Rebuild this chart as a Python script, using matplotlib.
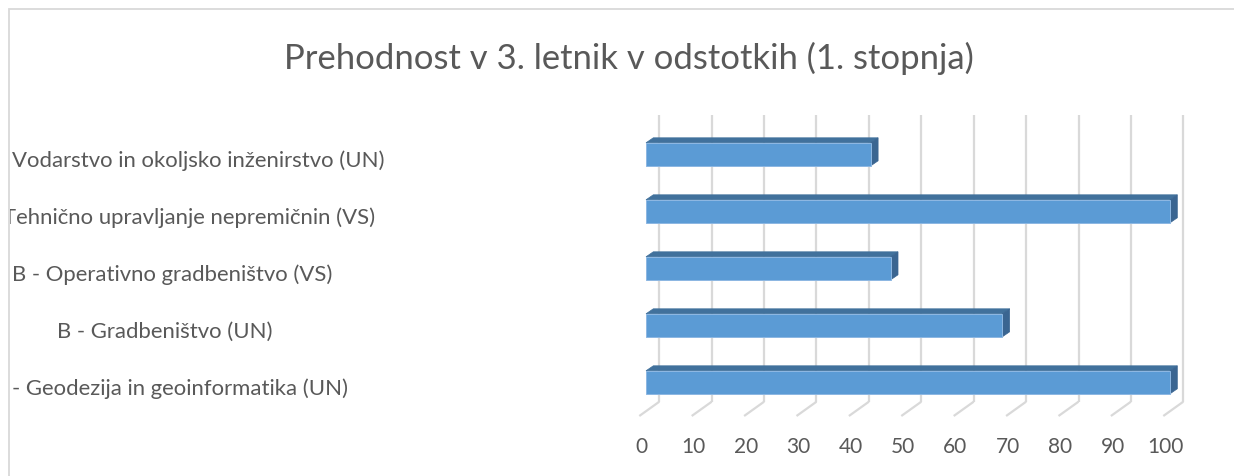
import numpy as np
import matplotlib.pyplot as plt
from matplotlib.patches import Polygon, Rectangle

# data
categories = ['- Geodezija in geoinformatika (UN)',
              'B - Gradbeništvo (UN)',
              'B - Operativno gradbeništvo (VS)',
              'Tehnično upravljanje nepremičnin (VS)',
              'Vodarstvo in okoljsko inženirstvo (UN)']
values = [100, 68, 46.7, 100, 42.9]
ticks = [0, 10, 20, 30, 40, 50, 60, 70, 80, 90, 100]
title = 'Prehodnost v 3. letnik v odstotkih (1. stopnja)'

# layout (pixels)
W, H = 1234, 476
X0, PXU = 646, 5.24        # front face of value 0, px per percent
Y0, PXC = 382.3, 57.0      # centre of first bar, px per category
label_left = [12, 57, 12, 3, 12]

FONT = 'Lato'
TXT = '#595959'
GRID = '#D9D9D9'
FRONT, TOP, SIDE = '#5B9BD5', '#41719C', '#3A6591'


def dx(px):
    return px / PXU


def dy(px):
    return px / PXC


fig = plt.figure(figsize=(W / 100, H / 100), dpi=100)
fig.patch.set_facecolor('white')

ax = fig.add_axes([0, 0, 1, 1])
ax.set_xlim(-X0 / PXU, (W - X0) / PXU)
ax.set_ylim((Y0 - H) / PXC, Y0 / PXC)
ax.axis('off')

# chart border
ax.add_patch(Rectangle((9 / W, -0.1), 1.2, (H - 9) / H + 0.1, transform=ax.transAxes,
                       fill=False, edgecolor=GRID, lw=1.3))

# back wall gridlines and floor lines
g_top, g_bot, g_floor = dy(382.3 - 115), dy(382.3 - 401.7), dy(382.3 - 416)
for t in ticks:
    xb = t + dx(13.3)
    xf = t + dx(-6.7)
    ax.plot([xb, xb], [g_bot, g_top], color=GRID, lw=1.6, solid_capstyle='butt', zorder=1)
    ax.plot([xb, xf], [g_bot, g_floor], color=GRID, lw=1.6, solid_capstyle='butt', zorder=1)
    ax.text(t + dx(-5), dy(382.3 - 447), str(t), ha='center', va='center',
            fontsize=15, color=TXT, family=FONT)

# 3D bars
y = np.arange(len(categories))
bh = dy(23)
ddx, ddy = dx(7.3), dy(5)
ax.barh(y, values, height=bh, color=FRONT, edgecolor='#8DB7E2', lw=0.7, zorder=3)
for yi, v in zip(y, values):
    top = yi + bh / 2
    bot = yi - bh / 2
    ax.add_patch(Polygon([(0, top), (v, top), (v + ddx, top + ddy), (ddx, top + ddy)],
                         closed=True, facecolor=TOP, edgecolor=TOP, lw=0.5, zorder=2))
    ax.add_patch(Polygon([(v, bot), (v, top), (v + ddx, top + ddy), (v + ddx, bot + ddy)],
                         closed=True, facecolor=SIDE, edgecolor=SIDE, lw=0.5, zorder=2))

# category labels, clipped at the chart border
lab = fig.add_axes([10 / W, 0, 630 / W, 1])
lab.set_xlim(10, 640)
lab.set_ylim(ax.get_ylim())
lab.axis('off')
lab.patch.set_facecolor('none')
for yi, name, lx in zip(y, categories, label_left):
    lab.text(lx, yi - dy(6.5), name, ha='left', va='center', fontsize=15.9,
             color=TXT, family=FONT, clip_on=True)

fig.text(629 / W, 1 - 58 / H, title, ha='center', va='center', fontsize=24.9,
         color=TXT, family=FONT)

fig.savefig('out.png', dpi=100, facecolor='white')
